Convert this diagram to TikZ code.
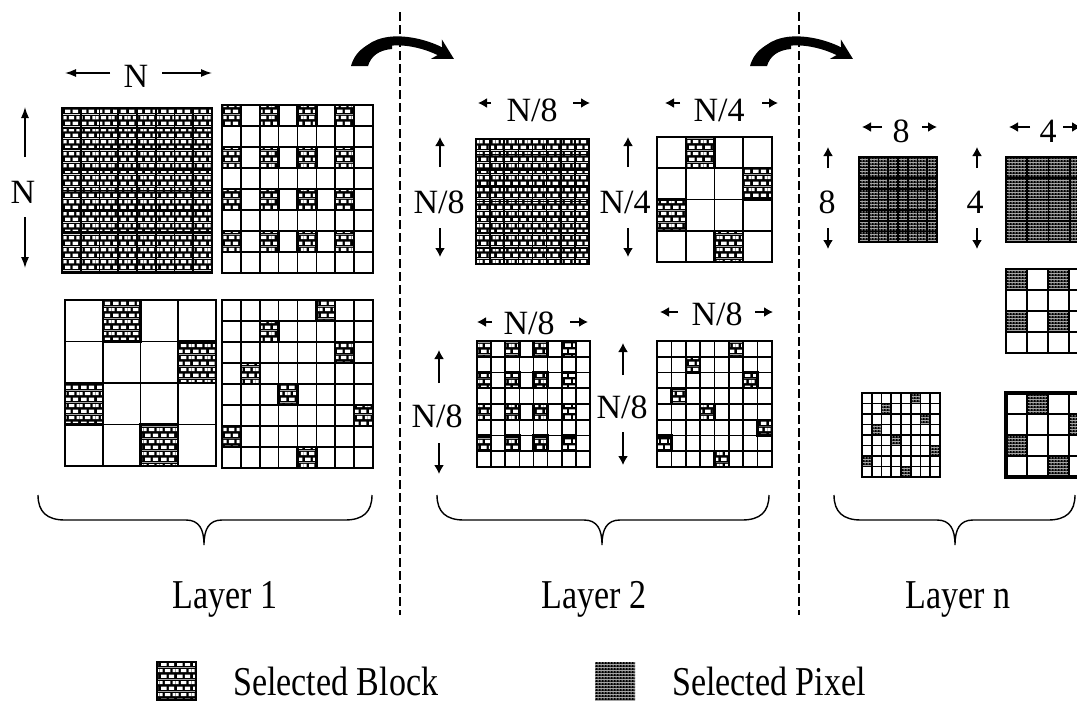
\documentclass[tikz,border=0pt]{standalone}
\usepackage{fontspec}
\setmainfont{Liberation Serif}
\newfontfamily\condserif[FakeStretch=0.83]{Liberation Serif}
\usetikzlibrary{arrows.meta,patterns}

\pgfdeclarepatterninherentlycolored{brickwall}{\pgfpointorigin}{\pgfpoint{16pt}{12pt}}{\pgfpoint{16pt}{12pt}}{%
  \pgfsetfillcolor{black}%
  \pgfpathrectangle{\pgfpointorigin}{\pgfpoint{16pt}{12pt}}\pgfusepath{fill}%
  \pgfsetfillcolor{white}%
  \pgfpathrectangle{\pgfpoint{1.2pt}{1.2pt}}{\pgfpoint{5.6pt}{3.4pt}}%
  \pgfpathrectangle{\pgfpoint{9.2pt}{1.2pt}}{\pgfpoint{5.6pt}{3.4pt}}%
  \pgfpathrectangle{\pgfpoint{0pt}{7.2pt}}{\pgfpoint{2.8pt}{3.4pt}}%
  \pgfpathrectangle{\pgfpoint{5.2pt}{7.2pt}}{\pgfpoint{5.6pt}{3.4pt}}%
  \pgfpathrectangle{\pgfpoint{13.2pt}{7.2pt}}{\pgfpoint{2.8pt}{3.4pt}}%
  \pgfusepath{fill}}

\pgfdeclarepatterninherentlycolored{pixdots}{\pgfpointorigin}{\pgfpoint{3pt}{3pt}}{\pgfpoint{3pt}{3pt}}{%
  \pgfsetfillcolor{black}%
  \pgfpathrectangle{\pgfpointorigin}{\pgfpoint{3pt}{3pt}}\pgfusepath{fill}%
  \pgfsetfillcolor{white}%
  \pgfpathrectangle{\pgfpoint{0.8pt}{0.8pt}}{\pgfpoint{1.3pt}{1.3pt}}\pgfusepath{fill}}

\tikzset{
  lbl/.style={font=\fontsize{34}{40}\selectfont, inner sep=0pt, anchor=base},
  laybl/.style={font=\condserif\fontsize{41}{48}\selectfont, inner sep=0pt, anchor=base},
  dimA/.style={line width=1.4pt, -{Latex[length=11pt,width=8pt]}},
  dimB/.style={line width=1.6pt, -{Latex[length=9pt,width=10pt]}},
  gline/.style={line width=1.6pt},
  gframe/.style={line width=2.3pt},
  selline/.style={line width=2.4pt},
  divider/.style={dash pattern=on 9pt off 4pt, line width=1.2pt},
  bracestyle/.style={line width=1.4pt},
  bendarrow/.style={line width=9pt, -{Stealth[length=20pt,width=22pt]}}
}

% x0 y0 x1 y1 n
\newcommand\gridlines[5]{%
  \pgfmathtruncatemacro\gm{#5-1}%
  \foreach \i in {1,...,\gm}{%
    \draw[gline] ({#1+\i*(#3-#1)/#5},#2) -- ({#1+\i*(#3-#1)/#5},#4);
    \draw[gline] (#1,{#2+\i*(#4-#2)/#5}) -- (#3,{#2+\i*(#4-#2)/#5});
  }%
  \draw[gframe] (#1,#2) rectangle (#3,#4);
}
% x0 y0 x1 y1 n pattern cells
\newcommand\selcells[7]{%
  \foreach \r/\c in #7{%
    \fill[pattern=#6] ({#1+\c*(#3-#1)/#5},{#2+\r*(#4-#2)/#5}) rectangle ({#1+(\c+1)*(#3-#1)/#5},{#2+(\r+1)*(#4-#2)/#5});
  }%
}
% x0 y0 x1 y1 n cells : thicker frames round selected cells
\newcommand\selframes[6]{%
  \foreach \r/\c in #6{%
    \draw[selline] ({#1+\c*(#3-#1)/#5},{#2+\r*(#4-#2)/#5}) rectangle ({#1+(\c+1)*(#3-#1)/#5},{#2+(\r+1)*(#4-#2)/#5});
  }%
}
% left x, right x, tip x
\newcommand\bracepath[3]{%
  \draw[bracestyle] (#1,495) .. controls (#1,512) and ({#1+9},520) .. ({#1+27},520)
    -- ({#3-18},520) .. controls ({#3-5},520) and (#3,529) .. (#3,545)
    .. controls (#3,529) and ({#3+5},520) .. ({#3+18},520)
    -- ({#2-27},520) .. controls ({#2-9},520) and (#2,512) .. (#2,495);
}
% bent arrow shifted by #1
\newcommand\bentarrow[1]{%
  \fill ({#1+351},66) .. controls ({#1+356},48) and ({#1+372},40) .. ({#1+392},39)
    -- ({#1+392},49) .. controls ({#1+379},50) and ({#1+371},56) .. ({#1+368},66) -- cycle;
  \draw[bendarrow] ({#1+359},64) .. controls ({#1+371},30) and ({#1+420},40) .. ({#1+454},59);
}

\def\checkE{0/0,0/2,0/4,0/6,2/0,2/2,2/4,2/6,4/0,4/2,4/4,4/6,6/0,6/2,6/4,6/6}
\def\randE{0/5,1/2,2/6,3/1,4/3,5/7,6/0,7/4}
\def\permF{0/1,1/3,2/0,3/2}
\def\checkF{0/0,0/2,2/0,2/2}

\begin{document}
\begin{tikzpicture}[x=1pt,y=-1pt]
\useasboundingbox (0,0) rectangle (1077,702);
\clip (0,0) rectangle (1077,702);

% dividers
\draw[divider] (400,12) -- (400,615);
\draw[divider] (799,12) -- (799,615);

% bent arrows
\bentarrow{0}
\bentarrow{399}

% ---------------- Layer 1 ----------------
\fill[pattern=brickwall] (62,108) rectangle (212,273);
\gridlines{62}{108}{212}{273}{8}

\selcells{222}{105}{373}{273}{8}{brickwall}{\checkE}
\gridlines{222}{105}{373}{273}{8}
\selframes{222}{105}{373}{273}{8}{\checkE}

\selcells{65}{300}{216}{466}{4}{brickwall}{\permF}
\gridlines{65}{300}{216}{466}{4}
\selframes{65}{300}{216}{466}{4}{\permF}

\selcells{222}{300}{373}{468}{8}{brickwall}{\randE}
\gridlines{222}{300}{373}{468}{8}
\selframes{222}{300}{373}{468}{8}{\randE}

\node[lbl] (l1h) at (136,87) {N};
\draw[dimA] (110,73) -- (65,73);
\draw[dimA] (162,73) -- (212,73);
\node[lbl] (l1v) at (23,203) {N};
\draw[dimA] (25,157) -- (25,107);
\draw[dimA] (25,217) -- (25,268);

% ---------------- Layer 2 ----------------
\fill[pattern=brickwall] (476,139) rectangle (589,264);
\gridlines{476}{139}{589}{264}{8}

\selcells{657}{137}{772}{262}{4}{brickwall}{\permF}
\gridlines{657}{137}{772}{262}{4}
\selframes{657}{137}{772}{262}{4}{\permF}

\selcells{477}{341}{590}{467}{8}{brickwall}{\checkE}
\gridlines{477}{341}{590}{467}{8}
\selframes{477}{341}{590}{467}{8}{\checkE}

\selcells{657}{341}{772}{467}{8}{brickwall}{\randE}
\gridlines{657}{341}{772}{467}{8}
\selframes{657}{341}{772}{467}{8}{\randE}

\node[lbl] (l2a) at (532,121) {N/8};
\draw[dimB] (491,103) -- (478,103);
\draw[dimB] (573,103) -- (590,103);
\node[lbl] (l2b) at (719,121) {N/4};
\draw[dimB] (680,103) -- (665,103);
\draw[dimB] (762,103) -- (778,103);
\node[lbl] (l2c) at (439,213) {N/8};
\draw[dimB] (440,167) -- (440,137);
\draw[dimB] (440,228) -- (440,257);
\node[lbl] (l2d) at (625,213) {N/4};
\draw[dimB] (628,167) -- (628,137);
\draw[dimB] (628,228) -- (628,257);

\node[lbl] (l2e) at (529,334) {N/8};
\draw[dimB] (492,322) -- (477,322);
\draw[dimB] (570,322) -- (588,322);
\node[lbl] (l2f) at (717,325) {N/8};
\draw[dimB] (678,312) -- (660,312);
\draw[dimB] (755,312) -- (773,312);
\node[lbl] (l2g) at (437,427) {N/8};
\draw[dimB] (439,383) -- (439,350);
\draw[dimB] (439,443) -- (439,474);
\node[lbl] (l2h) at (622,418) {N/8};
\draw[dimB] (623,375) -- (623,343);
\draw[dimB] (623,432) -- (623,465);

% ---------------- Layer n ----------------
\fill[pattern=pixdots] (859,157) rectangle (937,242);
\gridlines{859}{157}{937}{242}{8}

\fill[pattern=pixdots] (1006,157) rectangle (1091,242);
\gridlines{1006}{157}{1091}{242}{4}

\selcells{1006}{269}{1090}{353}{4}{pixdots}{\checkF}
\gridlines{1006}{269}{1090}{353}{4}
\selframes{1006}{269}{1090}{353}{4}{\checkF}

\selcells{862}{393}{940}{477}{8}{pixdots}{\randE}
\gridlines{862}{393}{940}{477}{8}

\selcells{1006}{393}{1090}{477}{4}{pixdots}{\permF}
\gridlines{1006}{393}{1090}{477}{4}
\selframes{1006}{393}{1090}{477}{4}{\permF}
\draw[line width=3.2pt] (1006,393) rectangle (1090,477);

\node[lbl] (lna) at (901,142) {8};
\draw[dimB] (882,127) -- (862,127);
\draw[dimB] (922,127) -- (937,127);
\node[lbl] (lnb) at (1048,142) {4};
\draw[dimB] (1030,127) -- (1009,127);
\draw[dimB] (1063,127) -- (1081,127);
\node[lbl] (lnc) at (827,213) {8};
\draw[dimB] (828,168) -- (828,147);
\draw[dimB] (828,228) -- (828,249);
\node[lbl] (lnd) at (975,213) {4};
\draw[dimB] (977,168) -- (977,147);
\draw[dimB] (977,228) -- (977,249);

% braces
\bracepath{38}{372}{204}
\bracepath{437}{769}{602}
\bracepath{834}{1075}{955}

\node[laybl] (lay1) at (225,608) {Layer 1};
\node[laybl] (lay2) at (594,608) {Layer 2};
\node[laybl] (layn) at (958,608) {Layer n};

% legend
\fill[pattern=brickwall] (157,662) rectangle (196,700);
\draw[line width=1.2pt] (157,662) rectangle (196,700);
\node[laybl, anchor=base west] (legA) at (233,695) {Selected Block};
\fill[pattern=pixdots] (595,662) rectangle (635,700);
\node[laybl, anchor=base west] (legB) at (672,695) {Selected Pixel};
\end{tikzpicture}
\end{document}
